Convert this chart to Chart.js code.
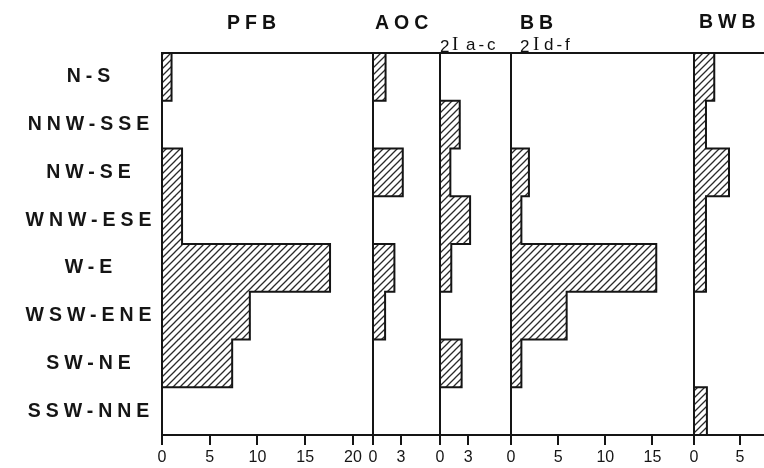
<!DOCTYPE html>
<html><head><meta charset="utf-8">
<script src="https://cdn.jsdelivr.net/npm/chart.js@4/dist/chart.umd.min.js"></script>
<style>
html,body{margin:0;padding:0;background:#fff;}
#wrap{position:relative;width:764px;height:468px;overflow:hidden;background:#fff;}
canvas{position:absolute;left:0;top:0;}
.t{position:absolute;font-family:"Liberation Sans",Arial,sans-serif;font-weight:bold;font-size:19.5px;letter-spacing:5px;line-height:1;color:#111;white-space:nowrap;}
.s{position:absolute;font-family:"Liberation Sans",Arial,sans-serif;font-size:17px;line-height:1;color:#111;white-space:nowrap;}
.r{position:absolute;font-family:"Liberation Serif","DejaVu Serif",serif;font-size:19px;line-height:1;color:#111;}
.sp{letter-spacing:3px;}
</style></head>
<body><div id="wrap"><canvas id="c" width="764" height="468"></canvas>
<div class="t" style="left:227px;top:12.5px">PFB</div>
<div class="t" style="left:375px;top:12.5px">AOC</div>
<div class="t" style="left:520px;top:12.5px">BB</div>
<div class="t" style="left:699px;top:12px">BWB</div>
<div class="s" style="left:440px;top:37.6px">2</div>
<div class="r" style="left:452px;top:34px">I</div>
<div class="s sp" style="left:466px;top:35.6px">a-c</div>
<div class="s" style="left:520px;top:37.6px">2</div>
<div class="r" style="left:533px;top:34px">I</div>
<div class="s sp" style="left:544px;top:35.6px">d-f</div>
</div>
<script>
// ---- data ----
const categories = ['N-S','NNW-SSE','NW-SE','WNW-ESE','W-E','WSW-ENE','SW-NE','SSW-NNE'];
const pfbValues  = [1.0, 0, 2.1, 2.1, 17.6, 9.2, 7.35, 0];
const aocValues  = [1.35, 0, 3.2, 0, 2.3, 1.3, 0, 0];
const iacValues  = [0, 2.1, 1.1, 3.2, 1.2, 0, 2.3, 0];
const bbValues   = [0, 0, 1.9, 1.1, 15.4, 5.9, 1.1, 0];
const bwbValues  = [2.2, 1.3, 3.8, 1.3, 1.3, 0, 0, 1.4];
const pfbTicks = [0, 5, 10, 15, 20];
const aocTicks = [0, 3];
const iacTicks = [0, 3];
const bbTicks  = [0, 5, 10, 15];
const bwbTicks = [0, 5];
const panelNames = ['PFB', 'AOC', '2Ia-c', 'BB 2Id-f', 'BWB'];

const INK = '#151515';
const canvas = document.getElementById('c');
const ctx = canvas.getContext('2d');

function hatch() {
  const P = 7;
  const c = document.createElement('canvas');
  c.width = P; c.height = P;
  const g = c.getContext('2d');
  g.strokeStyle = '#2a2a2a';
  g.lineWidth = 1.3;
  g.beginPath();
  g.moveTo(-1, P + 1); g.lineTo(P + 1, -1);
  g.moveTo(-1, 1); g.lineTo(1, -1);
  g.moveTo(P - 1, P + 1); g.lineTo(P + 1, P - 1);
  g.stroke();
  return ctx.createPattern(c, 'repeat');
}
const pattern = hatch();

// step outline of one histogram (category i occupies i-0.5 .. i+0.5 on the index axis)
function outline(vals) {
  const pts = [{x: 0, y: -0.5}];
  vals.forEach((v, i) => { pts.push({x: v, y: i - 0.5}); pts.push({x: v, y: i + 0.5}); });
  pts.push({x: 0, y: vals.length - 0.5});
  pts.push({x: 0, y: -0.5});
  return pts;
}
function barsOf(vals) { return vals.map((v, i) => ({x: v, y: i})); }

const panels = [
  {id: 'xPFB', values: pfbValues, ticks: pfbTicks, max: 22.1, w: 211},
  {id: 'xAOC', values: aocValues, ticks: aocTicks, max: 7.2,  w: 67},
  {id: 'xIAC', values: iacValues, ticks: iacTicks, max: 7.55, w: 71},
  {id: 'xBB',  values: bbValues,  ticks: bbTicks,  max: 19.4, w: 183},
  {id: 'xBWB', values: bwbValues, ticks: bwbTicks, max: 7.6,  w: 70}
];

const datasets = [];
panels.forEach((p, k) => {
  datasets.push({
    type: 'bar', label: panelNames[k], data: barsOf(p.values), xAxisID: p.id, yAxisID: 'y',
    backgroundColor: pattern, borderWidth: 0, barPercentage: 1, categoryPercentage: 1,
    grouped: false, order: 1
  });
  datasets.push({
    type: 'line', label: panelNames[k] + ' outline', data: outline(p.values), xAxisID: p.id, yAxisID: 'y',
    borderColor: INK, borderWidth: 2, pointRadius: 0, fill: false, tension: 0, order: 0, clip: false
  });
});

const scales = {
  y: {
    type: 'linear', min: -0.5, max: categories.length - 0.5, reverse: true, position: 'left', offset: false,
    afterBuildTicks: s => { s.ticks = categories.map((c, i) => ({value: i})); },
    grid: {display: true, offset: false, drawOnChartArea: false, drawTicks: true, tickLength: 23, tickColor: 'rgba(0,0,0,0)'},
    border: {display: false},
    ticks: {padding: 0, crossAlign: 'center', color: INK, autoSkip: false,
      callback: v => categories[v],
      font: {family: '"Liberation Sans", Arial, sans-serif', weight: 'bold', size: 19.5}},
    afterFit: s => { s.width = 162; }
  },
  xt: {
    type: 'linear', position: 'top', min: 0, max: 1,
    ticks: {display: false}, grid: {drawOnChartArea: false, drawTicks: false},
    border: {display: true, color: INK, width: 2},
    afterFit: s => { s.height = 0; }
  }
};
panels.forEach(p => {
  scales[p.id] = {
    type: 'linear', position: 'bottom', stack: 'panels', stackWeight: p.w,
    min: 0, max: p.max,
    afterBuildTicks: s => { s.ticks = p.ticks.map(v => ({value: v})); },
    grid: {drawOnChartArea: false, drawTicks: true, tickLength: 10, color: INK, lineWidth: 2},
    border: {display: true, color: INK, width: 2},
    ticks: {padding: 3, color: INK, autoSkip: false, maxRotation: 0,
      font: {family: '"Liberation Sans", Arial, sans-serif', size: 16}},
    afterFit: s => { s.height = 33; }
  };
});

const spacingPlugin = {
  id: 'ySpacing',
  beforeDraw(chart) {
    const s = chart.scales.y;
    if (s && !s._spaced) {
      const orig = s.drawLabels;
      s.drawLabels = function (a) {
        this.ctx.save();
        this.ctx.letterSpacing = '5px';
        orig.call(this, a);
        this.ctx.restore();
      };
      s._spaced = true;
    }
  }
};

new Chart(ctx, {
  type: 'bar',
  data: {labels: categories, datasets},
  options: {
    indexAxis: 'y',
    responsive: false,
    animation: false,
    devicePixelRatio: 1,
    layout: {padding: {top: 53, left: 0, right: 0, bottom: 0}},
    plugins: {legend: {display: false}, tooltip: {enabled: false}},
    scales
  },
  plugins: [spacingPlugin]
});
</script>
</body></html>
